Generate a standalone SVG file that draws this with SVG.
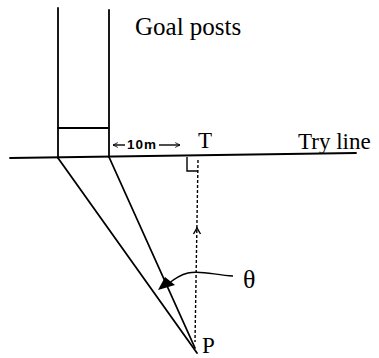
<svg xmlns="http://www.w3.org/2000/svg" width="379" height="358" viewBox="0 0 379 358">
<style>
.ln{stroke:#000;stroke-width:1.8;fill:none;stroke-linecap:round}
.thin{stroke:#000;stroke-width:1.4;fill:none}
.dash{stroke:#000;stroke-width:1.4;fill:none;stroke-dasharray:3 2}
.lbl{font-family:"Liberation Serif","Times New Roman",serif;fill:#000}
.small{font-family:"Liberation Sans",Arial,sans-serif;font-weight:bold;fill:#000}
</style>
<defs>
<marker id="openArrow" viewBox="0 0 10 10" refX="9" refY="5" markerWidth="6" markerHeight="6" orient="auto" markerUnits="userSpaceOnUse">
<path d="M1,1 L9,5 L1,9" fill="none" stroke="#000" stroke-width="1.4"/>
</marker>
</defs>
<rect width="379" height="358" fill="#fff"/>
<g id="goal-posts">
<line class="ln" x1="58" y1="8" x2="58" y2="158"/>
<line class="ln" x1="109" y1="10" x2="109" y2="157"/>
<line class="ln" x1="58" y1="128" x2="108" y2="128"/>
</g>
<g id="try-line">
<line class="ln" x1="10" y1="158" x2="356" y2="153"/>
</g>
<g id="connectors">
<line class="ln" x1="58" y1="158" x2="197" y2="353"/>
<line class="ln" x1="109" y1="157" x2="195" y2="348"/>
<line class="dash" x1="198" y1="160" x2="195" y2="342"/>
<path class="thin" d="M187,157 L187,171 L198,171"/>
<path class="thin" d="M193.5,234 L197,228 L200.5,234"/>
<path class="thin" d="M233,276 C215,275 200,270 188,273 C180,275 174,279 168,284"/>
<polygon points="158,290 165,277 175,285" fill="#000"/>
<line class="thin" x1="125" y1="145" x2="113" y2="145" marker-end="url(#openArrow)"/>
<line class="thin" x1="159" y1="145" x2="180" y2="145" marker-end="url(#openArrow)"/>
</g>
<g id="labels">
<text class="lbl" x="135" y="35" font-size="25">Goal posts</text>
<text class="lbl" x="198" y="148" font-size="23">T</text>
<text class="lbl" x="298" y="149" font-size="23">Try line</text>
<text class="small" x="127" y="149" font-size="13.5" letter-spacing="1">10m</text>
<text class="lbl" x="243" y="288" font-size="26">θ</text>
<text class="lbl" x="202" y="353" font-size="23">P</text>
</g>
</svg>
